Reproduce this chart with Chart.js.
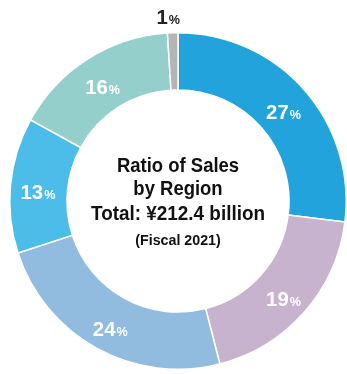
<!DOCTYPE html>
<html>
<head>
<meta charset="utf-8">
<script src="https://cdn.jsdelivr.net/npm/chart.js@4"></script>
<style>
  html, body { margin: 0; padding: 0; background: #fff; }
  canvas { display: block; }
</style>
</head>
<body>
<canvas id="regionChart" width="347" height="374"></canvas>
<script>
// data (clockwise from 12 o'clock)
var regions = ["Region A", "Region B", "Region C", "Region D", "Region E", "Other"];
var shares = [27, 19, 24, 13, 16, 1];
var colors = ["#23a3dc", "#c8b3cf", "#91bbdf", "#4bbde8", "#94cfcc", "#b5b5b5"];
var centerLines = ["Ratio of Sales", "by Region", "Total: ¥212.4 billion"];
var centerNote = "(Fiscal 2021)";

var FONT = '"Liberation Sans", Arial, sans-serif';

// text squeezed horizontally to look like a condensed face
function squeezed(c, text, x, y, font, sx, align) {
  c.save();
  c.font = font;
  c.textAlign = align || "center";
  c.textBaseline = "alphabetic";
  c.translate(x, y);
  c.scale(sx, 1);
  c.fillText(text, 0, 0);
  c.restore();
}

// "27%" style labels with a smaller percent sign, centred on x,y
function drawPct(c, value, x, y, color) {
  var num = String(value);
  var sx = 0.97;
  c.font = "bold 21px " + FONT;
  var w1 = c.measureText(num).width * sx;
  c.font = "bold 13px " + FONT;
  var w2 = c.measureText("%").width * sx;
  var left = x - (w1 + w2 + 1) / 2;
  c.fillStyle = color;
  squeezed(c, num, left, y + 7.5, "bold 21px " + FONT, sx, "left");
  squeezed(c, "%", left + w1 + 1, y + 7.5, "bold 13px " + FONT, sx, "left");
}

var labelPlugin = {
  id: "labels",
  afterDatasetsDraw: function (chart) {
    var c = chart.ctx;
    var meta = chart.getDatasetMeta(0);
    c.save();
    meta.data.forEach(function (arc, i) {
      var p = arc.getProps(["x", "y", "startAngle", "endAngle", "innerRadius", "outerRadius"]);
      var mid = (p.startAngle + p.endAngle) / 2;
      var small = shares[i] < 3;
      var r = small ? p.outerRadius + 16 : (p.innerRadius + p.outerRadius) / 2 + 1;
      var lx = p.x + Math.cos(mid) * r;
      var ly = p.y + Math.sin(mid) * r + (small ? 0 : 4);
      drawPct(c, shares[i], lx - (small ? 4 : 0), ly, small ? "#222" : "#fff");
    });

    // centre text
    var cx = meta.data[0].x;
    var cy = meta.data[0].y;
    c.fillStyle = "#111";
    squeezed(c, centerLines[0], cx, cy - 29, "bold 21px " + FONT, 0.88);
    squeezed(c, centerLines[1], cx, cy - 6.5, "bold 21px " + FONT, 0.88);
    squeezed(c, centerLines[2], cx, cy + 19, "bold 21px " + FONT, 0.9);
    squeezed(c, centerNote, cx, cy + 44, "bold 15px " + FONT, 0.95);
    c.restore();
  }
};

var ctx = document.getElementById("regionChart").getContext("2d");
var myChart = new Chart(ctx, {
  type: "doughnut",
  data: {
    labels: regions,
    datasets: [
      {
        data: shares,
        backgroundColor: colors,
        borderColor: "#ffffff",
        borderWidth: 1.5,
      },
    ],
  },
  options: {
    responsive: false,
    animation: false,
    cutout: "66%",
    layout: {
      padding: { left: 9, right: 0, top: 32, bottom: 4 },
    },
    plugins: {
      legend: { display: false },
      tooltip: { enabled: false },
    },
  },
  plugins: [labelPlugin],
});
</script>
</body>
</html>
